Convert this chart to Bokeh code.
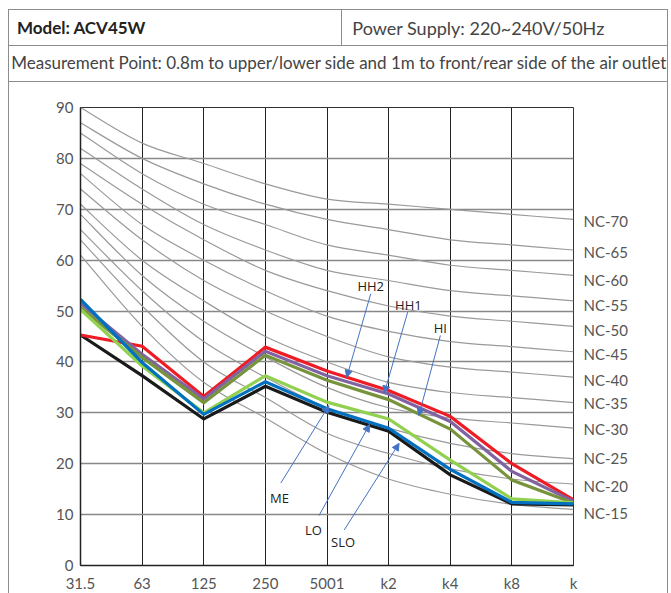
from bokeh.plotting import figure
from bokeh.models import (FixedTicker, LinearAxis, Range1d, Arrow, NormalHead, Label)
from bokeh.embed import file_html
from bokeh.resources import INLINE

# ---------------- data ----------------
freq_labels = ["31.5", "63", "125", "250", "5001", "k2", "k4", "k8", "k"]
freq_idx = [0, 1, 2, 3, 4, 5, 6, 7, 8]
y_ticks = [0, 10, 20, 30, 40, 50, 60, 70, 80, 90]

nc_names = ["NC-70", "NC-65", "NC-60", "NC-55", "NC-50", "NC-45",
            "NC-40", "NC-35", "NC-30", "NC-25", "NC-20", "NC-15"]
nc_label_pos = [67.6, 61.7, 56.2, 51.2, 46.3, 41.6, 36.5, 32.0, 26.9, 21.2, 15.7, 10.3]
nc_70 = [90, 83, 79, 75, 72, 71, 70, 69, 68]
nc_65 = [87, 80, 75, 71, 68, 66, 64, 63, 62]
nc_60 = [85, 77, 71, 67, 63, 61, 59, 58, 57]
nc_55 = [82, 74, 67, 62, 58, 56, 54, 53, 52]
nc_50 = [79, 71, 64, 58, 54, 51, 49, 48, 47]
nc_45 = [77, 67, 60, 54, 49, 46, 44, 43, 42]
nc_40 = [74, 64, 56, 50, 45, 41, 39, 38, 37]
nc_35 = [71, 60, 52, 45, 40, 36, 34, 33, 32]
nc_30 = [69, 57, 48, 41, 35, 31, 29, 28, 27]
nc_25 = [66, 54, 44, 37, 31, 27, 24, 22, 21]
nc_20 = [64, 51, 40, 33, 26, 22, 19, 17, 16]
nc_15 = [61, 47, 36, 29, 22, 17, 14, 12, 11]
nc_curves = [nc_70, nc_65, nc_60, nc_55, nc_50, nc_45, nc_40, nc_35, nc_30, nc_25, nc_20, nc_15]

hh2 = [45.3, 43.1, 33.2, 42.9, 38.2, 34.4, 29.3, 20.0, 12.9]
hh1 = [51.5, 41.5, 32.7, 42.1, 37.3, 33.7, 28.3, 18.5, 12.6]
hi = [50.7, 40.9, 32.0, 41.3, 36.4, 32.6, 26.8, 16.8, 12.3]
me = [50.3, 39.2, 30.0, 37.3, 32.1, 28.8, 20.7, 13.1, 12.3]
lo = [52.3, 39.9, 29.7, 36.1, 30.8, 27.0, 18.9, 12.4, 12.1]
slo = [45.3, 37.3, 28.8, 35.2, 30.1, 26.4, 17.8, 12.1, 11.9]

model_text = "Model: ACV45W"
power_text = "Power Supply: 220~240V/50Hz"
meas_text = "Measurement Point: 0.8m to upper/lower side and 1m to front/rear side of the air outlet"

FONT = "Lato"
BCOL = "#8c8c8c"

# table borders drawn as CSS backgrounds on the figure host
g = "linear-gradient(%s,%s)" % (BCOL, BCOL)
table_css = {
    "background-color": "white",
    "background-image": ", ".join([g] * 6),
    "background-position": "8px 9px, 8px 45px, 8px 81px, 8px 9px, 667px 9px, 341px 9px",
    "background-size": "660px 1px, 660px 1px, 660px 1px, 1px 590px, 1px 590px, 1px 36px",
    "background-repeat": "no-repeat",
}

# ---------------- chart ----------------
p = figure(frame_width=493, frame_height=458, output_backend="svg", toolbar_location=None,
           x_range=Range1d(0, 8), y_range=Range1d(0, 90),
           min_border_left=80, min_border_right=96, min_border_top=107, min_border_bottom=27,
           x_axis_location=None, y_axis_location=None,
           outline_line_color="#333", outline_line_width=1,
           background_fill_color="white", border_fill_color=None, styles=table_css)

bottom = LinearAxis(ticker=FixedTicker(ticks=freq_idx),
                    major_label_overrides={i: s for i, s in zip(freq_idx, freq_labels)})
left = LinearAxis(ticker=FixedTicker(ticks=y_ticks))
right = LinearAxis(ticker=FixedTicker(ticks=nc_label_pos),
                   major_label_overrides={v: s for v, s in zip(nc_label_pos, nc_names)})


def plain(ax, size="15px", color="#555"):
    ax.major_tick_line_color = None
    ax.minor_tick_line_color = None
    ax.major_tick_out = 0
    ax.major_tick_in = 0
    ax.minor_tick_out = 0
    ax.minor_tick_in = 0
    ax.major_label_text_font = FONT
    ax.major_label_text_font_size = size
    ax.major_label_text_color = color


for ax in (bottom, left, right):
    plain(ax)
bottom.axis_line_color = "#222"
bottom.axis_line_width = 1.5
bottom.major_label_standoff = 8
left.axis_line_color = "#222"
left.axis_line_width = 1.5
left.major_label_standoff = 7
right.axis_line_color = None
right.major_label_standoff = 10
p.add_layout(bottom, "below")
p.add_layout(left, "left")
p.add_layout(right, "right")

# header table texts: label-only axes above the frame on a pixel-like range
p.extra_x_ranges = {"hdr": Range1d(80, 573)}
hdr_meas = LinearAxis(x_range_name="hdr", ticker=FixedTicker(ticks=[339]),
                      major_label_overrides={339: meas_text})
hdr_model = LinearAxis(x_range_name="hdr", ticker=FixedTicker(ticks=[81]),
                       major_label_overrides={81: model_text})
hdr_power = LinearAxis(x_range_name="hdr", ticker=FixedTicker(ticks=[478]),
                       major_label_overrides={478: power_text})
hdr_space = LinearAxis(x_range_name="hdr", ticker=FixedTicker(ticks=[300]),
                       major_label_overrides={300: " "})
for ax, col, size in ((hdr_meas, "#444", "17px"), (hdr_model, "#222", "17px"),
                      (hdr_power, "#444", "18px"), (hdr_space, "#444", "17px")):
    plain(ax, size=size, color=col)
    ax.axis_line_color = None
hdr_meas.major_label_standoff = 35
hdr_model.major_label_text_font_style = "bold"
hdr_model.major_label_standoff = 11
hdr_power.major_label_standoff = -25
hdr_space.major_label_standoff = -13
p.add_layout(hdr_meas, "above")
p.add_layout(hdr_model, "above")
p.add_layout(hdr_power, "above")
p.add_layout(hdr_space, "above")

p.xgrid.ticker = FixedTicker(ticks=freq_idx)
p.xgrid.grid_line_color = "#222"
p.xgrid.grid_line_width = 1
p.ygrid.ticker = FixedTicker(ticks=y_ticks)
p.ygrid.grid_line_color = "#888"
p.ygrid.grid_line_width = 1.3


def smooth_segments(xs, ys):
    """Cubic Bezier pieces (Catmull-Rom style) through the given points."""
    n = len(xs)
    out = {"x0": [], "y0": [], "x1": [], "y1": [], "cx0": [], "cy0": [], "cx1": [], "cy1": []}
    for i in range(n - 1):
        xa, ya = xs[max(i - 1, 0)], ys[max(i - 1, 0)]
        xb, yb = xs[i], ys[i]
        xc, yc = xs[i + 1], ys[i + 1]
        xd, yd = xs[min(i + 2, n - 1)], ys[min(i + 2, n - 1)]
        out["x0"].append(xb); out["y0"].append(yb)
        out["x1"].append(xc); out["y1"].append(yc)
        out["cx0"].append(xb + (xc - xa) / 6.0); out["cy0"].append(yb + (yc - ya) / 6.0)
        out["cx1"].append(xc - (xd - xb) / 6.0); out["cy1"].append(yc - (yd - yb) / 6.0)
    return out


for curve in nc_curves:
    seg = smooth_segments(freq_idx, curve)
    p.bezier(x0=seg["x0"], y0=seg["y0"], x1=seg["x1"], y1=seg["y1"],
             cx0=seg["cx0"], cy0=seg["cy0"], cx1=seg["cx1"], cy1=seg["cy1"],
             line_color="#9a9a9a", line_width=1.2)

series = [(slo, "#1a1a1a"), (hh2, "#ee1c24"), (hh1, "#8064a2"), (hi, "#77933c"),
          (me, "#92d050"), (lo, "#0070c0")]
for vals, col in series:
    p.line(freq_idx, vals, line_color=col, line_width=3.2, line_join="miter")

ACOL = "#4472c4"
notes = [("HH2", 4.71, 55.0, 4.71, 53.4, 4.32, 37.0),
         ("HH1", 5.32, 51.1, 5.31, 49.8, 4.93, 33.9),
         ("HI", 5.84, 46.6, 5.84, 45.2, 5.49, 29.5),
         ("ME", 3.23, 13.3, 3.25, 16.2, 4.03, 31.4),
         ("LO", 3.78, 6.9, 3.87, 9.8, 4.69, 27.7),
         ("SLO", 4.26, 4.6, 4.28, 7.0, 5.17, 24.0)]
for txt, tx, ty, xs, ys, xe, ye in notes:
    p.add_layout(Arrow(end=NormalHead(size=7, fill_color=ACOL, line_color=ACOL),
                       x_start=xs, y_start=ys, x_end=xe, y_end=ye,
                       line_color=ACOL, line_width=1))
    p.add_layout(Label(x=tx, y=ty, text=txt, text_align="center", text_baseline="middle",
                       text_font="Open Sans", text_font_size="13px", text_color="#222"))

open("out.html", "w").write(file_html(p, INLINE))
